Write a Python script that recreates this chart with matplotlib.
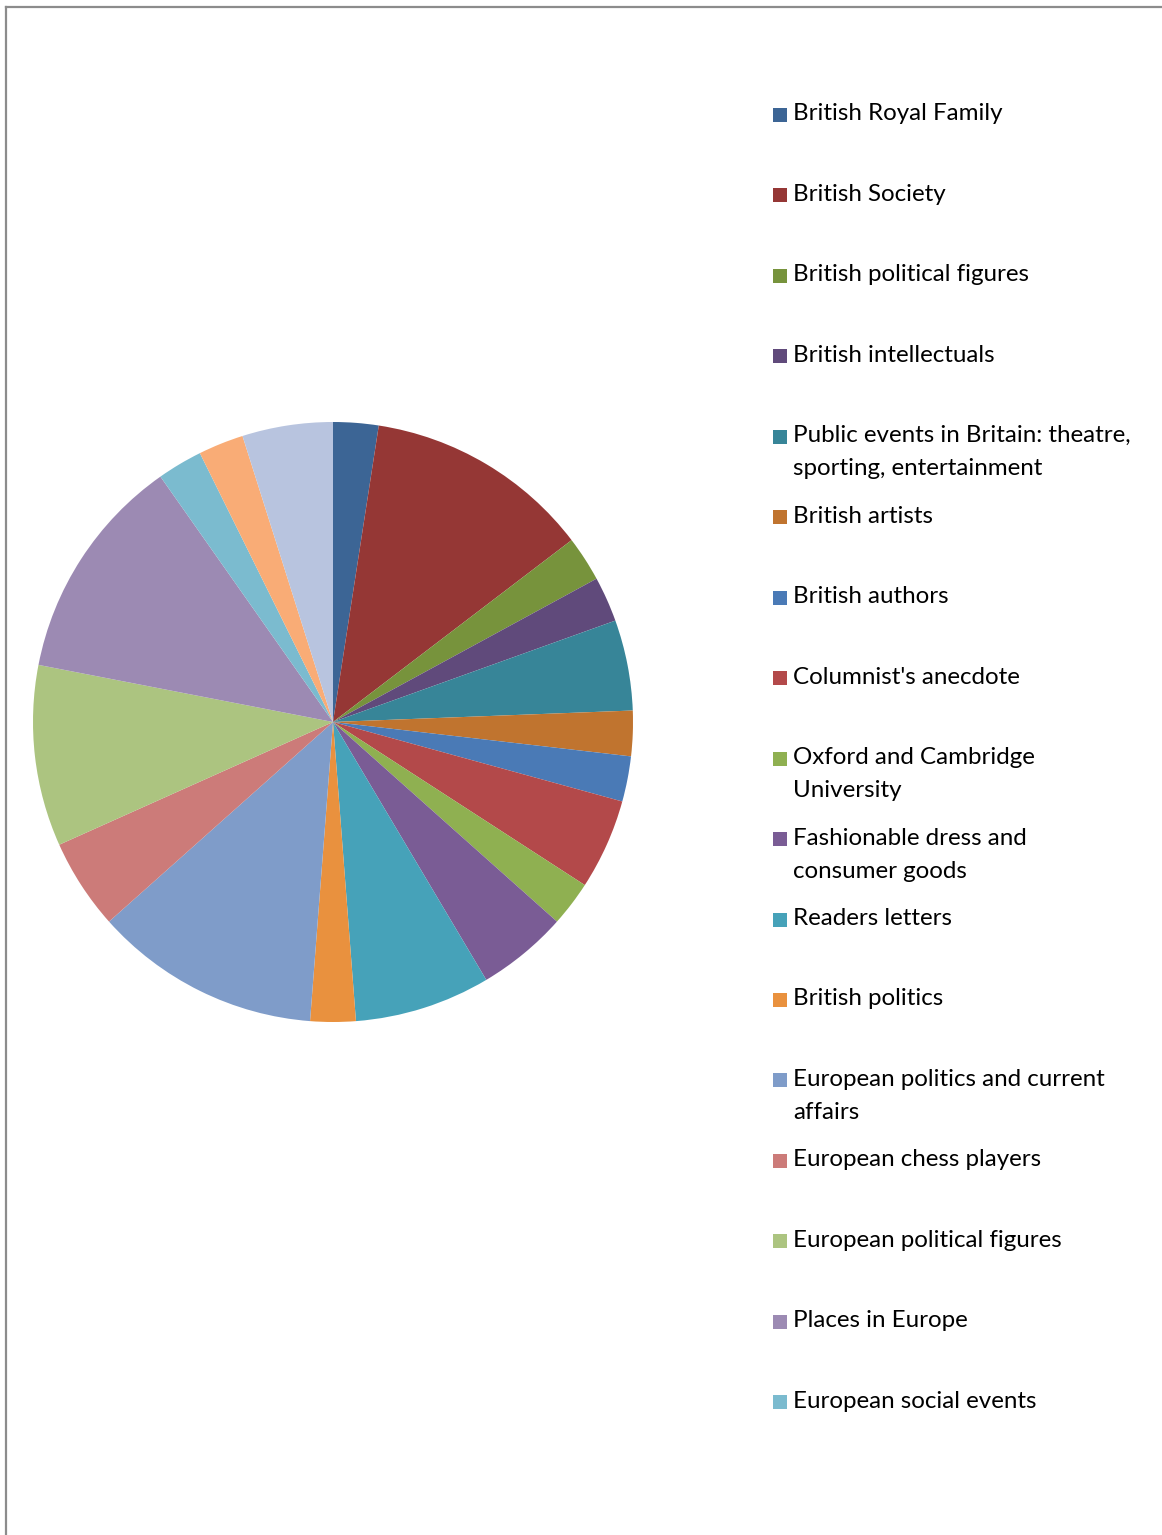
import matplotlib
matplotlib.use("Agg")
import matplotlib.pyplot as plt
from matplotlib.patches import Rectangle

# topic counts (slices go clockwise from 12 o'clock)
topics = [
    "British Royal Family",
    "British Society",
    "British political figures",
    "British intellectuals",
    "Public events in Britain: theatre,\nsporting, entertainment",
    "British artists",
    "British authors",
    "Columnist's anecdote",
    "Oxford and Cambridge\nUniversity",
    "Fashionable dress and\nconsumer goods",
    "Readers letters",
    "British politics",
    "European politics and current\naffairs",
    "European chess players",
    "European political figures",
    "Places in Europe",
    "European social events",
]
counts = [1, 5, 1, 1, 2, 1, 1, 2, 1, 2, 3, 1, 5, 2, 4, 5, 1, 1, 2]
colors = [
    "#3C6595", "#953735", "#77933C", "#604A7B", "#378598", "#C0742F",
    "#4A7AB6", "#B3494A", "#8FB051", "#7A5C95", "#46A2B9", "#E9913E",
    "#7F9CC9", "#CC7B79", "#ACC480", "#9C8AB3", "#7BBBCF", "#F9AC76",
    "#B8C4DF",
]

W, H = 1162, 1535
fig = plt.figure(figsize=(W / 100, H / 100), dpi=100)
fig.patch.set_facecolor("white")

# chart area frame (runs off the right and bottom edges)
fig.add_artist(plt.Line2D([6 / W, 6 / W], [0, 1 - 7 / H], color="#8C8C8C", lw=1.6))
fig.add_artist(plt.Line2D([6 / W, 1], [1 - 7 / H, 1 - 7 / H], color="#8C8C8C", lw=1.6))

cx, cy, r = 333, 722, 300
ax = fig.add_axes([(cx - r) / W, 1 - (cy + r) / H, 2 * r / W, 2 * r / H])
ax.pie(counts, colors=colors, startangle=90, counterclock=False,
       radius=1, wedgeprops=dict(linewidth=0))
ax.set_xlim(-1, 1)
ax.set_ylim(-1, 1)
ax.axis("off")

# legend, laid out by hand like the spreadsheet one
y0, step, line_h = 114, 80.45, 33
for i, label in enumerate(topics):
    y = y0 + i * step
    fig.add_artist(Rectangle((773 / W, 1 - (y + 8) / H), 14 / W, 14 / H,
                             transform=fig.transFigure, color=colors[i], lw=0))
    for j, line in enumerate(label.split("\n")):
        fig.text(793 / W, 1 - (y + j * line_h) / H, line, fontsize=17.4,
                 family="Lato", color="black", va="center", ha="left")

fig.savefig("out.png", dpi=100)
